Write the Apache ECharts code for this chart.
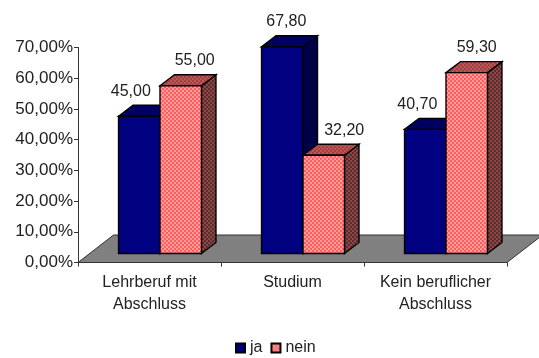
<!DOCTYPE html>
<html>
<head>
<meta charset="utf-8">
<style>html,body{margin:0;padding:0;background:#fff}#c{width:539px;height:358px}</style>
<script src="https://cdn.jsdelivr.net/npm/echarts@6/dist/echarts.min.js"></script>
</head>
<body>
<div id="c"></div>
<script>
// Anteil ja / nein je Ausbildungsabschluss
const categories = ['Lehrberuf mit\nAbschluss', 'Studium', 'Kein beruflicher\nAbschluss'];
const ja = [45.0, 67.8, 40.7];
const nein = [55.0, 32.2, 59.3];
const yTicks = [0, 10, 20, 30, 40, 50, 60, 70];

// Extrusion of the bars and of the floor, and the manual nudges of the value labels
const BAR_DEPTH = [14.5, -11];
const FLOOR_DEPTH = [35.5, -27.5];
const BASE_LIFT = 9;
const BAR_SHIFT = 10.5;
const jaLabelDx = [-8.5, 4, -8];
const neinLabelDx = [14, 20.5, 10];

// Small checkered tile used for the hatched "nein" faces
function checker(a, b) {
  const c = document.createElement('canvas');
  c.width = c.height = 4;
  const g = c.getContext('2d');
  g.fillStyle = a; g.fillRect(0, 0, 4, 4);
  g.fillStyle = b; g.fillRect(0, 0, 2, 2); g.fillRect(2, 2, 2, 2);
  return c;
}
const pat = (a, b) => ({ image: checker(a, b), repeat: 'repeat' });

const looks = {
  ja: { front: '#000080', top: '#000060', side: '#000048' },
  nein: {
    front: pat('#ff5c5c', '#ff9c9c'),
    top: pat('#c05454', '#9c4444'),
    side: pat('#8c4848', '#5c2c2c')
  }
};
const edge = { stroke: '#000', lineWidth: 1.4, lineJoin: 'miter' };

function barItem(look, side, dxList, labelOf) {
  return function (params, api) {
    const i = api.value(0);
    const v = api.value(1);
    const band = api.size([1, 0])[0];
    const x0 = api.coord([i, 0])[0] + BAR_SHIFT + (side < 0 ? -band * 0.29 : 0);
    const w = band * 0.29;
    const base = api.coord([i, 0])[1] - BASE_LIFT;
    const top = base - api.size([0, v])[1] * 0.993;
    const [dx, dy] = BAR_DEPTH;
    const poly = (pts, fill) => ({
      type: 'polygon',
      shape: { points: pts },
      style: Object.assign({ fill }, edge)
    });
    return {
      type: 'group',
      children: [
        poly([[x0 + w, base], [x0 + w + dx, base + dy], [x0 + w + dx, top + dy], [x0 + w, top]], look.side),
        poly([[x0, top], [x0 + dx, top + dy], [x0 + w + dx, top + dy], [x0 + w, top]], look.top),
        poly([[x0, base], [x0 + w, base], [x0 + w, top], [x0, top]], look.front),
        {
          type: 'text',
          style: {
            x: x0 + w / 2 + dxList[i],
            y: top - 25,
            text: labelOf(v),
            fill: '#222',
            font: '16px "Liberation Sans"',
            align: 'center',
            verticalAlign: 'middle'
          }
        }
      ]
    };
  };
}

const fmt = v => v.toFixed(2).replace('.', ',');

const option = {
  animation: false,
  backgroundColor: '#fff',
  grid: { left: 78, right: 32, top: 47.5, bottom: 95.5 },
  legend: {
    left: 230, top: 335,
    itemWidth: 9, itemHeight: 9, itemGap: 8,
    icon: 'rect',
    data: ['ja', 'nein'],
    textStyle: { fontFamily: 'Liberation Sans', fontSize: 16, color: '#222' }
  },
  xAxis: {
    type: 'category',
    data: categories,
    axisLine: { lineStyle: { color: '#333', width: 1 } },
    axisTick: { show: true, length: 4, lineStyle: { color: '#333' } },
    axisLabel: { fontFamily: 'Liberation Sans', fontSize: 16, color: '#222', margin: 9, lineHeight: 22, interval: 0 }
  },
  yAxis: {
    type: 'value',
    min: yTicks[0],
    max: yTicks[yTicks.length - 1],
    interval: 10,
    splitLine: { show: false },
    axisLine: { show: true, lineStyle: { color: '#333', width: 1 } },
    axisTick: { show: true, length: 4, lineStyle: { color: '#333' } },
    axisLabel: { fontFamily: 'Liberation Sans', fontSize: 17, color: '#222', margin: 5, formatter: v => v.toFixed(2).replace('.', ',') + '%' }
  },
  series: [
    {
      name: 'Boden',
      type: 'custom',
      clip: false,
      silent: true,
      z: 1,
      data: [[0, 0]],
      renderItem(params, api) {
        const [l, b] = api.coord([0, 0]);
        const w = api.size([1, 0])[0] * categories.length;
        const x0 = l - api.size([1, 0])[0] / 2;
        const [dx, dy] = FLOOR_DEPTH;
        return {
          type: 'polygon',
          shape: { points: [[x0, b], [x0 + dx, b + dy], [x0 + w + dx, b + dy], [x0 + w, b]] },
          style: { fill: '#808080', stroke: '#333', lineWidth: 1 }
        };
      }
    },
    {
      name: 'ja',
      type: 'custom',
      clip: false,
      z: 2,
      itemStyle: { color: '#000080', borderColor: '#000', borderWidth: 1 },
      data: ja.map((v, i) => [i, v]),
      renderItem: barItem(looks.ja, -1, jaLabelDx, fmt)
    },
    {
      name: 'nein',
      type: 'custom',
      clip: false,
      z: 3,
      itemStyle: { color: pat('#ff5c5c', '#ff9c9c'), borderColor: '#000', borderWidth: 1 },
      data: nein.map((v, i) => [i, v]),
      renderItem: barItem(looks.nein, 1, neinLabelDx, fmt)
    }
  ]
};

const chart = echarts.init(document.getElementById('c'), null, { renderer: 'canvas' });
chart.setOption(option);
</script>
</body>
</html>
